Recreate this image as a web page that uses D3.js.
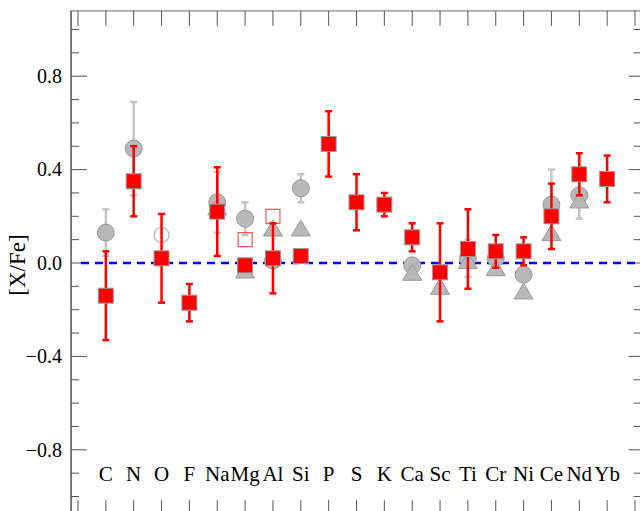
<!DOCTYPE html>
<html>
<head>
<meta charset="utf-8">
<script src="https://cdn.jsdelivr.net/npm/d3@7"></script>
<style>
  html, body { margin: 0; padding: 0; background: #fff; }
  svg { display: block; }
</style>
</head>
<body>
<script>
// Element labels along the x axis
const elements = ["C","N","O","F","Na","Mg","Al","Si","P","S","K","Ca","Sc","Ti","Cr","Ni","Ce","Nd","Yb"];

// Main abundances (red filled squares) with 1-sigma errors (null = no bar)
const redVal = [-0.14, 0.35, 0.02, -0.17, 0.22, -0.01, 0.02, 0.03, 0.51, 0.26, 0.25, 0.11, -0.04, 0.06, 0.05, 0.05, 0.20, 0.38, 0.36];
const redErr = [0.19, 0.15, 0.19, 0.08, 0.19, null, 0.15, null, 0.14, 0.12, 0.05, 0.06, 0.21, 0.17, 0.07, 0.06, 0.14, 0.09, 0.10];

// Comparison values (grey filled circles)
const circEl  = ["C", "N", "Na", "Mg", "Al", "Si", "Ca", "Ti", "Cr", "Ni", "Ce", "Nd"];
const circVal = [0.13, 0.49, 0.26, 0.19, 0.01, 0.32, -0.01, 0.02, 0.02, -0.05, 0.25, 0.29];
const circErr = [0.10, 0.20, 0.13, 0.07, null, 0.06, null, 0.08, null, null, 0.15, 0.10];

// Comparison values (grey triangles)
const triEl  = ["Na", "Mg", "Al", "Si", "Ca", "Sc", "Ti", "Cr", "Ni", "Ce", "Nd"];
const triVal = [0.24, -0.03, 0.15, 0.15, -0.04, -0.10, 0.01, -0.02, -0.12, 0.13, 0.27];

// Open symbols
const openCircEl = ["O"];
const openCircVal = [0.12];
const openSqEl = ["Mg", "Al"];
const openSqVal = [0.10, 0.20];

// y-axis ticks
const yMajor = [0.8, 0.4, 0.0, -0.4, -0.8];
const yMajorLabels = ["0.8", "0.4", "0.0", "\u22120.4", "\u22120.8"];
const yMinor = d3.range(-10, 11).map(d => d / 10);

const W = 640, H = 511;
const FONT = "'Liberation Serif', 'Times New Roman', serif";
const svg = d3.select("body").append("svg").attr("width", W).attr("height", H)
  .style("font-family", FONT);

const x = d3.scaleLinear().domain([0, 20]).range([78, 635]);
const y = d3.scaleLinear().domain([-1, 1]).range([496.5, 29.5]);
const pos = el => x(elements.indexOf(el) + 1);

const fLeft = x(-0.25), fRight = x(20.2), fTop = y(1.08), fBottom = y(-1.08);

// frame
svg.append("line").attr("x1", fLeft).attr("x2", fLeft).attr("y1", fTop).attr("y2", fBottom)
  .attr("stroke", "#222").attr("stroke-width", 1.2);
svg.append("line").attr("x1", fLeft).attr("x2", fRight).attr("y1", fTop).attr("y2", fTop)
  .attr("stroke", "#888").attr("stroke-width", 1.2);
svg.append("line").attr("x1", fRight).attr("x2", fRight).attr("y1", fTop).attr("y2", fBottom)
  .attr("stroke", "#222").attr("stroke-width", 1.2);

// y ticks, both sides
const yt = svg.append("g");
yMinor.forEach(v => {
  const major = yMajor.some(m => Math.abs(m - v) < 1e-9);
  yt.append("line").attr("x1", fLeft).attr("x2", fLeft + (major ? 16 : 8))
    .attr("y1", y(v)).attr("y2", y(v)).attr("stroke", "#555").attr("stroke-width", 1);
  yt.append("line").attr("x1", fRight).attr("x2", fRight - (major ? 12 : 7))
    .attr("y1", y(v)).attr("y2", y(v)).attr("stroke", "#555").attr("stroke-width", 1);
});
yMajor.forEach((v, i) => {
  yt.append("text").attr("x", 62).attr("y", y(v) + 6.8).attr("text-anchor", "end")
    .attr("font-size", 20).attr("fill", "#000").text(yMajorLabels[i]);
});

// x ticks top and bottom
d3.range(0, 21).forEach(i => {
  svg.append("line").attr("x1", x(i)).attr("x2", x(i)).attr("y1", fTop).attr("y2", fTop + 15)
    .attr("stroke", "#555").attr("stroke-width", 1);
  svg.append("line").attr("x1", x(i)).attr("x2", x(i)).attr("y1", fBottom).attr("y2", fBottom - 15)
    .attr("stroke", "#555").attr("stroke-width", 1);
});

// element labels
svg.append("g").selectAll("text").data(elements).join("text")
  .attr("x", (d, i) => x(i + 1)).attr("y", 481).attr("text-anchor", "middle")
  .attr("font-size", 21).attr("fill", "#000").text(d => d);

// y label
svg.append("text").attr("transform", `translate(25,${y(0) + 2}) rotate(-90)`)
  .attr("text-anchor", "middle").attr("font-size", 23).attr("fill", "#000").text("[X/Fe]");

// solar reference line
svg.append("line").attr("x1", 81).attr("x2", fRight).attr("y1", y(0)).attr("y2", y(0))
  .attr("stroke", "#0000ff").attr("stroke-width", 2.5).attr("stroke-dasharray", "8,6");

function errBar(g, cx, v, e, color, w) {
  if (e == null) return;
  g.append("line").attr("x1", cx).attr("x2", cx).attr("y1", y(v + e)).attr("y2", y(v - e))
    .attr("stroke", color).attr("stroke-width", w);
  [v + e, v - e].forEach(t => g.append("line").attr("x1", cx - 3.5).attr("x2", cx + 3.5)
    .attr("y1", y(t)).attr("y2", y(t)).attr("stroke", color).attr("stroke-width", w));
}

// grey circles with error bars
const gC = svg.append("g");
circEl.forEach((el, i) => errBar(gC, pos(el), circVal[i], circErr[i], "#c4c4c4", 2.5));
gC.selectAll("circle").data(circEl).join("circle")
  .attr("cx", d => pos(d)).attr("cy", (d, i) => y(circVal[i])).attr("r", 8.5)
  .attr("fill", "#b8b8b8").attr("stroke", "#9a9a9a").attr("stroke-width", 1);

// grey triangles
svg.append("g").selectAll("path").data(triEl).join("path")
  .attr("d", (d, i) => {
    const cx = pos(d), cy = y(triVal[i]);
    return `M${cx},${cy - 8}L${cx + 9.5},${cy + 8}L${cx - 9.5},${cy + 8}Z`;
  })
  .attr("fill", "#b8b8b8").attr("stroke", "#9a9a9a").attr("stroke-width", 1);

// open circle
svg.append("g").selectAll("circle").data(openCircEl).join("circle")
  .attr("cx", d => pos(d)).attr("cy", (d, i) => y(openCircVal[i])).attr("r", 7.5)
  .attr("fill", "none").attr("stroke", "#c0c0c0").attr("stroke-width", 1.5);

// open red squares
svg.append("g").selectAll("rect").data(openSqEl).join("rect")
  .attr("x", d => pos(d) - 7).attr("y", (d, i) => y(openSqVal[i]) - 7)
  .attr("width", 14).attr("height", 14)
  .attr("fill", "none").attr("stroke", "#ff5050").attr("stroke-width", 1.2);

// red squares with error bars
const gR = svg.append("g");
elements.forEach((el, i) => errBar(gR, x(i + 1), redVal[i], redErr[i], "#ff0000", 2.5));
gR.selectAll("rect").data(elements).join("rect")
  .attr("x", (d, i) => x(i + 1) - 7.5).attr("y", (d, i) => y(redVal[i]) - 7.5)
  .attr("width", 15).attr("height", 15)
  .attr("fill", "#ff0000").attr("stroke", "#999").attr("stroke-width", 1);
</script>
</body>
</html>
